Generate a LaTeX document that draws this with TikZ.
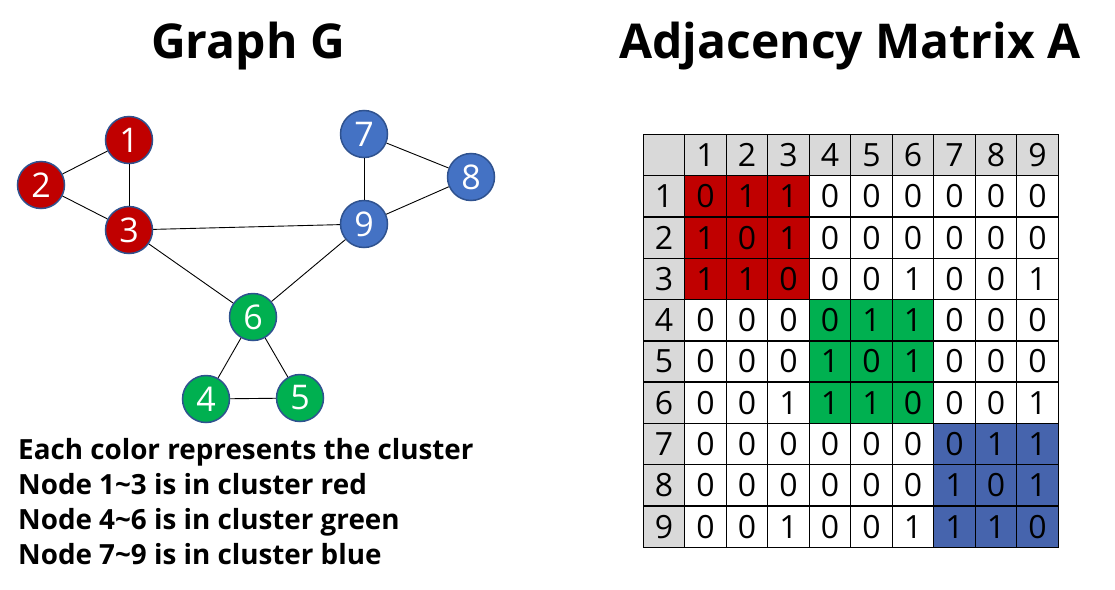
\documentclass[tikz,border=0pt]{standalone}
\usepackage{fontspec}
\setmainfont{Open Sans}
\usepackage{xcolor}
\usepackage{tikz}
\usetikzlibrary{positioning}
\definecolor{clred}{HTML}{C00000}
\definecolor{clgreen}{HTML}{00B050}
\definecolor{clblue}{HTML}{4472C4}
\definecolor{mxblue}{HTML}{4664AD}
\definecolor{hdgray}{HTML}{D9D9D9}
\definecolor{rimblue}{HTML}{2F528F}
\tikzset{
  vtx/.style    = {circle, draw=rimblue, line width=1.5pt, minimum size=47pt,
                   inner sep=0pt, text=white, font=\fontsize{34}{34}\selectfont},
  redv/.style   = {vtx, fill=clred},
  greenv/.style = {vtx, fill=clgreen},
  bluev/.style  = {vtx, fill=clblue},
  edge/.style   = {draw=black, line width=0.9pt},
  cell/.style   = {rectangle, draw=black, line width=1.4pt, minimum width=41.5pt,
                   minimum height=41.3pt, inner sep=0pt,
                   font=\fontsize{32}{32}\selectfont},
  hdr/.style    = {cell, fill=hdgray},
  ttl/.style    = {font=\fontsize{48}{48}\selectfont\bfseries},
  note/.style   = {font=\fontsize{27.8}{35}\selectfont\bfseries, align=left,
                   anchor=north west, inner sep=0pt}
}
\begin{document}
\begin{tikzpicture}[x=1pt, y=-1pt]
    \useasboundingbox (0,0) rectangle (1115,589);

    % ---- Titles ----
    \node[ttl] (gtitle) at (248,46) {Graph G};
    \node[ttl] (mtitle) at (850,46) {Adjacency Matrix A};

    % ---- Graph G ----
    \node[redv]   (n1) at (129,140) {1};
    \node[redv]   (n2) at (41,185)  {2};
    \node[redv]   (n3) at (129,230) {3};
    \node[greenv] (n4) at (206,399) {4};
    \node[greenv] (n5) at (300,398) {5};
    \node[greenv] (n6) at (253,317) {6};
    \node[bluev]  (n7) at (364,134) {7};
    \node[bluev]  (n8) at (471,177) {8};
    \node[bluev]  (n9) at (364,224) {9};

    \foreach \a/\b in {1/2, 1/3, 2/3, 3/9, 3/6, 9/6, 7/9, 7/8, 8/9, 6/4, 6/5, 4/5}
      \draw[edge] (n\a) -- (n\b);

    % ---- Legend text ----
    \node[note] (legend) at (18,438) {Each color represents the cluster\\
                     Node 1\textasciitilde3 is in cluster red\\
                     Node 4\textasciitilde6 is in cluster green\\
                     Node 7\textasciitilde9 is in cluster blue};

    % ---- Adjacency matrix ----
    \node[hdr] (h-0-0) at (664,155) {};
    \foreach \c in {1,...,9} {
      \node[hdr] (h-0-\c) at ({664+41.5*\c},155) {\c};
      \node[hdr] (h-\c-0) at (664,{155+41.3*\c}) {\c};
    }
    \foreach \row [count=\r] in {{0,1,1,0,0,0,0,0,0},{1,0,1,0,0,0,0,0,0},
                                 {1,1,0,0,0,1,0,0,1},{0,0,0,0,1,1,0,0,0},
                                 {0,0,0,1,0,1,0,0,0},{0,0,1,1,1,0,0,0,1},
                                 {0,0,0,0,0,0,0,1,1},{0,0,0,0,0,0,1,0,1},
                                 {0,0,1,0,0,1,1,1,0}} {
      \foreach \v [count=\c] in \row {
        \pgfmathtruncatemacro{\br}{(\r-1)/3}
        \pgfmathtruncatemacro{\bc}{(\c-1)/3}
        \ifnum\br=\bc
          \ifcase\br \def\fc{clred}\or \def\fc{clgreen}\or \def\fc{mxblue}\fi
        \else
          \def\fc{white}
        \fi
        \node[cell, fill=\fc] (m-\r-\c) at ({664+41.5*\c},{155+41.3*\r}) {\v};
      }
    }
  \end{tikzpicture}
\end{document}
